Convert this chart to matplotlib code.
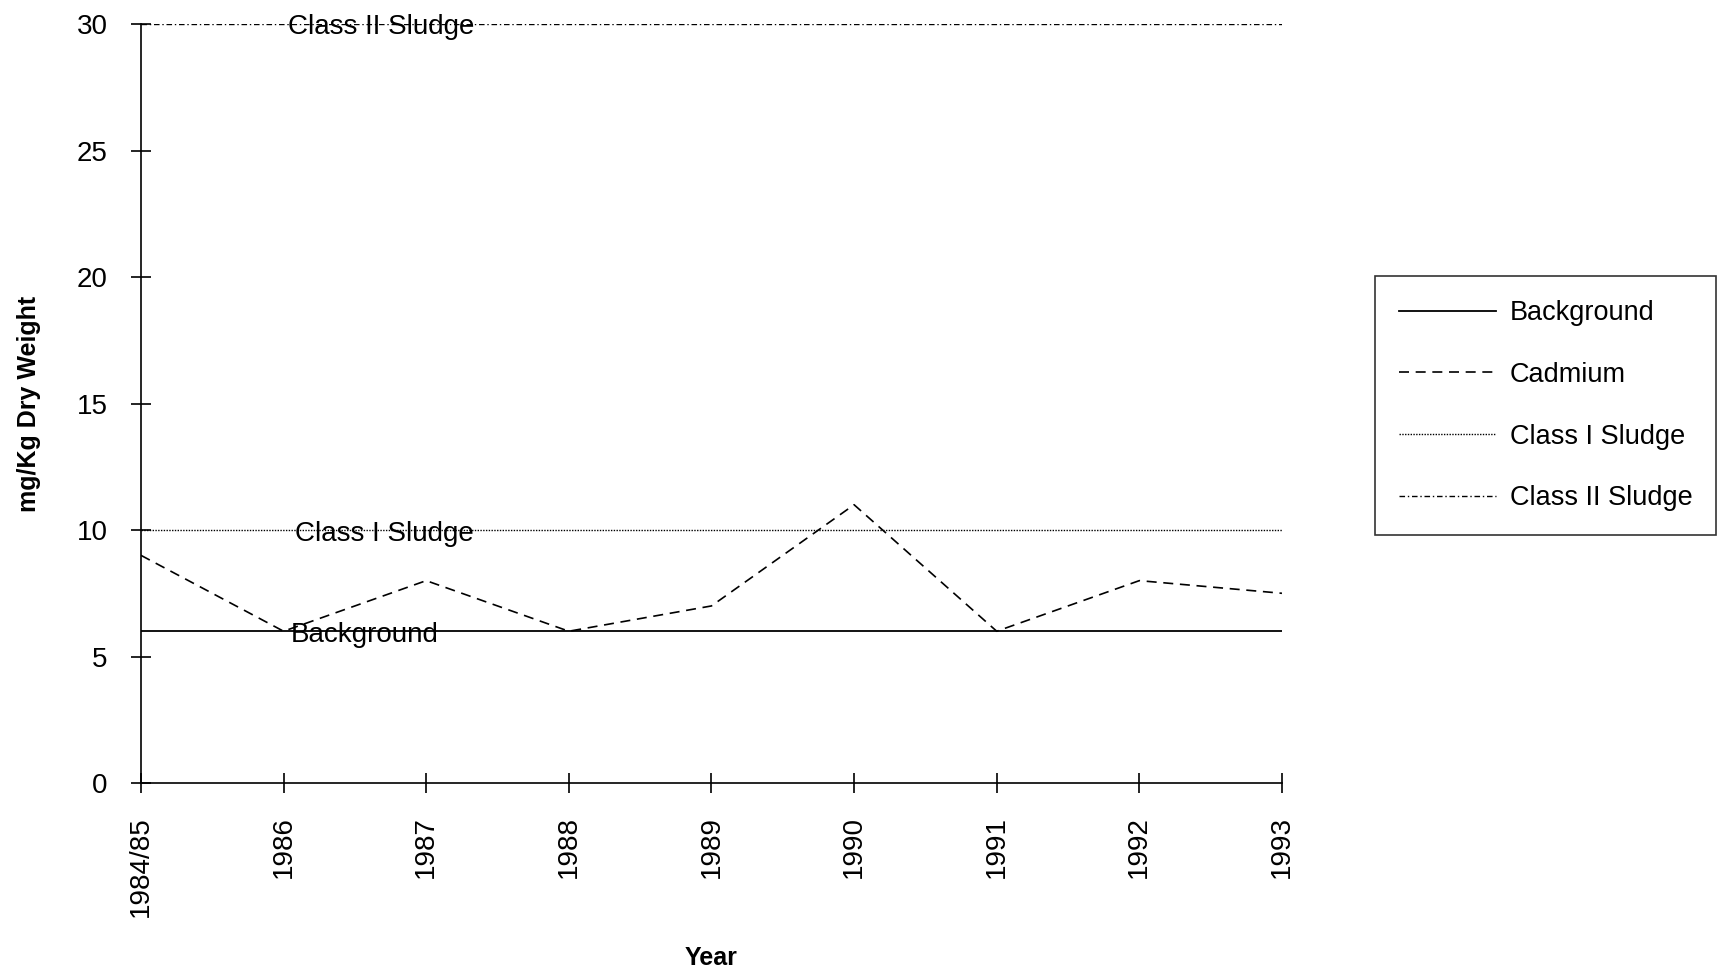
import matplotlib
matplotlib.use("Agg")
import matplotlib.pyplot as plt

# Cadmium concentration in sludge compared with reference levels
years = ["1984/85", "1986", "1987", "1988", "1989", "1990", "1991", "1992", "1993"]
cadmium = [9, 6, 8, 6, 7, 11, 6, 8, 7.5]
background = [6] * len(years)
class_i = [10] * len(years)
class_ii = [30] * len(years)
y_ticks = [0, 5, 10, 15, 20, 25, 30]

plt.rcParams["font.family"] = ["Liberation Sans", "DejaVu Sans"]
FS = 20

fig = plt.figure(figsize=(17.21, 9.76), dpi=100)
ax = fig.add_axes([0.0819, 0.1977, 0.6630, 0.7777])

x = list(range(len(years)))
ax.plot(x, background, color="black", lw=1.3, ls="-", label="Background")
ax.plot(x, cadmium, color="black", lw=1.2, ls=(0, (6, 4)), label="Cadmium")
ax.plot(x, class_i, color="black", lw=1.0, ls=(0, (1, 1)), label="Class I Sludge")
ax.plot(x, class_ii, color="black", lw=1.0, ls=(0, (4, 2, 1, 2)), label="Class II Sludge")

# Inline labels for the reference levels
for xpos, yval, txt in [(1.05, background[0], "Background"),
                        (1.08, class_i[0], "Class I Sludge"),
                        (1.03, class_ii[0], "Class II Sludge")]:
    ax.annotate(txt, xy=(xpos, yval), xytext=(0, -2.5), textcoords="offset points",
                fontsize=FS, va="center", ha="left", annotation_clip=False)

ax.set_xlim(0, len(years) - 1)
ax.set_ylim(0, 30)
ax.set_xticks(x)
ax.set_xticklabels(years, rotation=90)
ax.set_yticks(y_ticks)

for side in ("top", "right"):
    ax.spines[side].set_visible(False)
for side in ("left", "bottom"):
    ax.spines[side].set_linewidth(1.2)
    ax.spines[side].set_color("black")

ax.tick_params(axis="both", direction="inout", length=14, width=1.2,
               pad=17, labelsize=FS, colors="black")

ax.set_xlabel("Year", fontsize=18, fontweight="bold", labelpad=21)
ax.set_ylabel("mg/Kg Dry Weight", fontsize=18, fontweight="bold", labelpad=26)

leg = ax.legend(loc="center left", bbox_to_anchor=(1.0815, 0.497),
                fontsize=19.5, frameon=True, fancybox=False, edgecolor="black",
                handlelength=3.6, handletextpad=0.5, labelspacing=1.32,
                borderpad=0.88, borderaxespad=0.0)
leg.get_frame().set_linewidth(1.2)

fig.savefig("out.png", dpi=100, facecolor="white")
